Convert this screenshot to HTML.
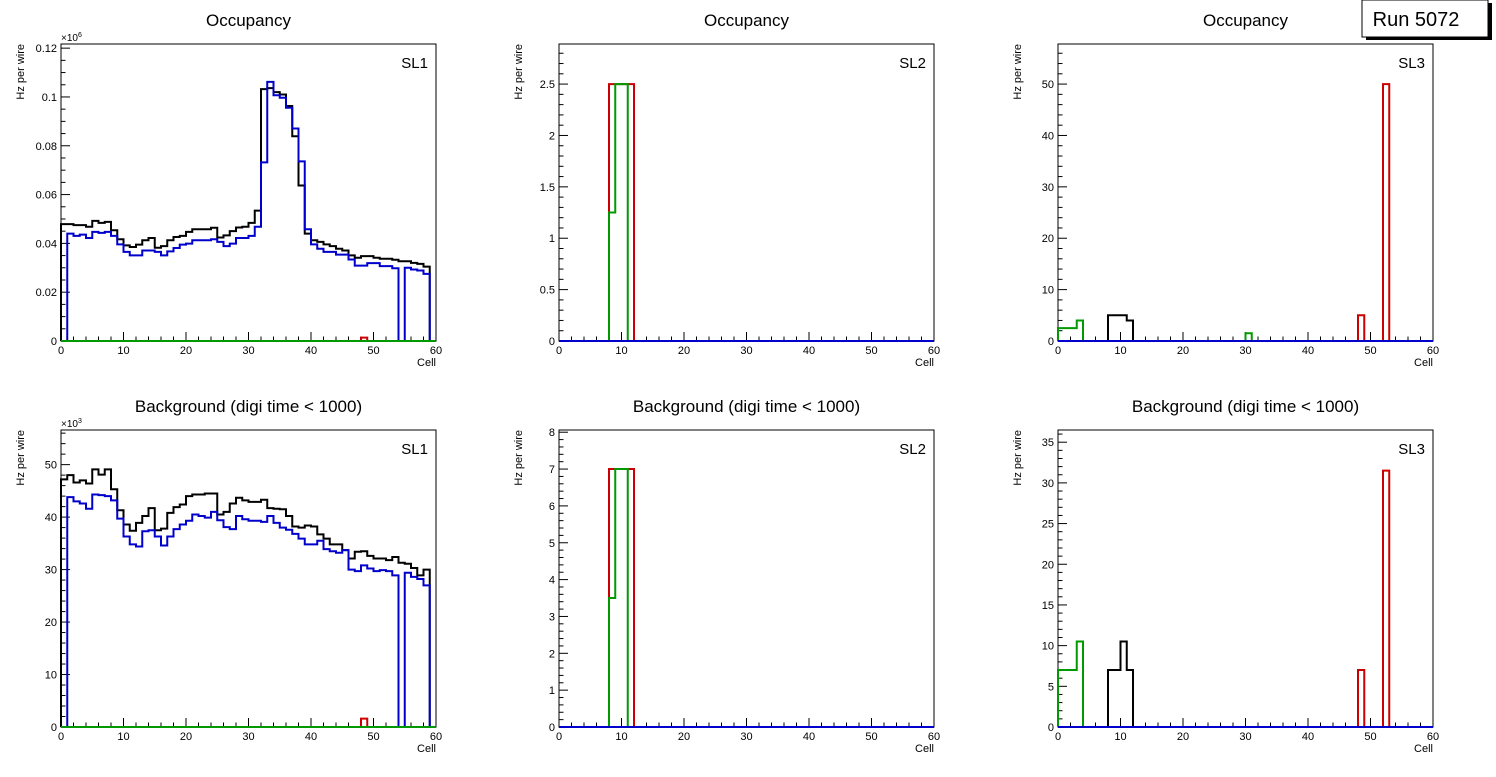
<!DOCTYPE html>
<html><head><meta charset="utf-8"><style>
body{margin:0;background:#fff}
svg text{font-family:"Liberation Sans",Arial,sans-serif}
</style></head><body>
<svg id="c" width="1496" height="772" xmlns="http://www.w3.org/2000/svg">
<rect width="1496" height="772" fill="#fff"/>
<g>
<rect x="1366" y="3" width="126" height="37" fill="#000"/>
<rect x="1362" y="0" width="126" height="37" fill="#fff" stroke="#000" stroke-width="1"/>
<text x="1416" y="26" font-size="20" text-anchor="middle">Run 5072</text>
</g>
</svg>
<script>
const Z=[0,0,0,0,0,0,0,0,0,0,0,0,0,0,0,0,0,0,0,0,0,0,0,0,0,0,0,0,0,0,0,0,0,0,0,0,0,0,0,0,0,0,0,0,0,0,0,0,0,0,0,0,0,0,0,0,0,0,0,0];
// SL1 occupancy (thousands)
const occSL1Black=[47.9,47.9,47.5,47.5,46.8,49.2,48.4,48.8,45.4,41.7,39.2,38.5,39.5,41.3,42.2,38.2,38.9,41.3,42.6,43.1,44.7,45.8,45.8,45.8,46.4,42.4,43.3,45,46.5,46.8,48.4,53.4,103.2,103.6,102,101,96.3,83.9,63.7,44,41.3,40.6,39.6,38.9,37.8,37.1,35.1,34.1,34.8,34.8,34.1,33.7,33.7,33.3,32.7,32.7,32,31.6,30.5,0];
const occSL1Blue=[0,44,43.1,43.6,42.2,44.7,44.3,44.7,43.1,39.6,36.5,35.1,35.1,37.1,37.1,36.5,35.1,36.7,38.1,39.5,39.9,41.3,41.3,41.3,41.7,40.6,38.9,39.9,42.2,42.2,43.1,46.8,73.2,106.2,100.7,99.7,95.6,87.1,73.6,45.8,39.6,37.8,36.5,36.5,35.4,35.4,33.4,30.9,30.9,31.9,31.9,30.7,30.7,29.8,0,30,29.3,28.9,27.5,0];
const occSL1Red=[0,0,0,0,0,0,0,0,0,0,0,0,0,0,0,0,0,0,0,0,0,0,0,0,0,0,0,0,0,0,0,0,0,0,0,0,0,0,0,0,0,0,0,0,0,0,0,0,1.4,0,0,0,0,0,0,0,0,0,0,0];
const occSL1Green=Z;
// SL1 background (thousands)
const bkgSL1Black=[47.2,48,46.6,47,46.4,49.1,48.1,49.1,45.3,41.3,38.6,37.4,38.9,40.2,41.7,37.5,37.8,40.8,41.9,42.4,44,44.3,44.3,44.5,44.5,40.5,41,42.6,43.7,43.2,42.9,42.9,43.3,41.7,41.6,41.5,40.2,38.2,38,38.4,38.2,36.7,35.9,34.8,34.8,33.7,32.1,33.4,33.5,32.6,32.1,32.1,31.8,32.4,31.3,31.1,30.3,28.9,30,0];
const bkgSL1Blue=[0,43.8,43,42.6,41.6,44.3,44.2,44,43.2,39.7,36.3,34.8,34.4,37.3,37.5,36.3,34.6,36.3,37.7,38.6,39.3,40.5,40.2,39.9,41,39.4,38.1,37.7,40.2,39.6,39.3,39.3,39.1,40.2,38.9,38,37.6,36.8,35.9,34.8,34.8,35.5,33.9,33.5,33.2,33.7,30,29.7,30.8,30.2,29.7,29.9,29.7,28.9,0,29.4,28.6,28.2,27,0];
const bkgSL1Red=[0,0,0,0,0,0,0,0,0,0,0,0,0,0,0,0,0,0,0,0,0,0,0,0,0,0,0,0,0,0,0,0,0,0,0,0,0,0,0,0,0,0,0,0,0,0,0,0,1.6,0,0,0,0,0,0,0,0,0,0,0];
const bkgSL1Green=Z;
// SL2
const occSL2Red=[0,0,0,0,0,0,0,0,2.5,2.5,2.5,2.5,0,0,0,0,0,0,0,0,0,0,0,0,0,0,0,0,0,0,0,0,0,0,0,0,0,0,0,0,0,0,0,0,0,0,0,0,0,0,0,0,0,0,0,0,0,0,0,0];
const occSL2Green=[0,0,0,0,0,0,0,0,1.25,2.5,2.5,0,0,0,0,0,0,0,0,0,0,0,0,0,0,0,0,0,0,0,0,0,0,0,0,0,0,0,0,0,0,0,0,0,0,0,0,0,0,0,0,0,0,0,0,0,0,0,0,0];
const bkgSL2Red=[0,0,0,0,0,0,0,0,7,7,7,7,0,0,0,0,0,0,0,0,0,0,0,0,0,0,0,0,0,0,0,0,0,0,0,0,0,0,0,0,0,0,0,0,0,0,0,0,0,0,0,0,0,0,0,0,0,0,0,0];
const bkgSL2Green=[0,0,0,0,0,0,0,0,3.5,7,7,0,0,0,0,0,0,0,0,0,0,0,0,0,0,0,0,0,0,0,0,0,0,0,0,0,0,0,0,0,0,0,0,0,0,0,0,0,0,0,0,0,0,0,0,0,0,0,0,0];
// SL3
const occSL3Black=[0,0,0,0,0,0,0,0,5,5,5,4,0,0,0,0,0,0,0,0,0,0,0,0,0,0,0,0,0,0,0,0,0,0,0,0,0,0,0,0,0,0,0,0,0,0,0,0,0,0,0,0,0,0,0,0,0,0,0,0];
const occSL3Green=[2.5,2.5,2.5,4,0,0,0,0,0,0,0,0,0,0,0,0,0,0,0,0,0,0,0,0,0,0,0,0,0,0,1.5,0,0,0,0,0,0,0,0,0,0,0,0,0,0,0,0,0,0,0,0,0,0,0,0,0,0,0,0,0];
const occSL3Red=[0,0,0,0,0,0,0,0,0,0,0,0,0,0,0,0,0,0,0,0,0,0,0,0,0,0,0,0,0,0,0,0,0,0,0,0,0,0,0,0,0,0,0,0,0,0,0,0,5,0,0,0,50,0,0,0,0,0,0,0];
const bkgSL3Black=[0,0,0,0,0,0,0,0,7,7,10.5,7,0,0,0,0,0,0,0,0,0,0,0,0,0,0,0,0,0,0,0,0,0,0,0,0,0,0,0,0,0,0,0,0,0,0,0,0,0,0,0,0,0,0,0,0,0,0,0,0];
const bkgSL3Green=[7,7,7,10.5,0,0,0,0,0,0,0,0,0,0,0,0,0,0,0,0,0,0,0,0,0,0,0,0,0,0,0,0,0,0,0,0,0,0,0,0,0,0,0,0,0,0,0,0,0,0,0,0,0,0,0,0,0,0,0,0];
const bkgSL3Red=[0,0,0,0,0,0,0,0,0,0,0,0,0,0,0,0,0,0,0,0,0,0,0,0,0,0,0,0,0,0,0,0,0,0,0,0,0,0,0,0,0,0,0,0,0,0,0,0,7,0,0,0,31.5,0,0,0,0,0,0,0];
const xTicks=[0,10,20,30,40,50,60];
const occSL1Ticks=[0,20,40,60,80,100,120];
const occSL1Labels=["0","0.02","0.04","0.06","0.08","0.1","0.12"];
const bkgSL1Ticks=[0,10,20,30,40,50];
const occSL2Ticks=[0,0.5,1,1.5,2,2.5];
const occSL2Labels=["0","0.5","1","1.5","2","2.5"];
const bkgSL2Ticks=[0,1,2,3,4,5,6,7,8];
const occSL3Ticks=[0,10,20,30,40,50];
const bkgSL3Ticks=[0,5,10,15,20,25,30,35];

const NS="http://www.w3.org/2000/svg";
const svg=document.getElementById('c');
function mk(tag,attrs,parent){const e=document.createElementNS(NS,tag);for(const k in attrs)e.setAttribute(k,attrs[k]);parent.appendChild(e);return e;}
const panels=[
 {id:'occ-sl1',x0:61,y0:44,title:'Occupancy',sl:'SL1',ymax:121.7,ticks:occSL1Ticks,labels:occSL1Labels,minor:4,exp:'6',series:[[occSL1Black,'#000'],[occSL1Blue,'#0000cc'],[occSL1Red,'#cc0000'],[occSL1Green,'#009900']]},
 {id:'occ-sl2',x0:559,y0:44,title:'Occupancy',sl:'SL2',ymax:2.89,ticks:occSL2Ticks,labels:occSL2Labels,minor:5,series:[[Z,'#000'],[occSL2Red,'#cc0000'],[occSL2Green,'#009900'],[Z,'#0000cc']]},
 {id:'occ-sl3',x0:1058,y0:44,title:'Occupancy',sl:'SL3',ymax:57.8,ticks:occSL3Ticks,minor:5,series:[[occSL3Black,'#000'],[occSL3Red,'#cc0000'],[occSL3Green,'#009900'],[Z,'#0000cc']]},
 {id:'bkg-sl1',x0:61,y0:430,title:'Background (digi time < 1000)',sl:'SL1',ymax:56.6,ticks:bkgSL1Ticks,minor:5,exp:'3',series:[[bkgSL1Black,'#000'],[bkgSL1Blue,'#0000cc'],[bkgSL1Red,'#cc0000'],[bkgSL1Green,'#009900']]},
 {id:'bkg-sl2',x0:559,y0:430,title:'Background (digi time < 1000)',sl:'SL2',ymax:8.06,ticks:bkgSL2Ticks,minor:5,series:[[Z,'#000'],[bkgSL2Red,'#cc0000'],[bkgSL2Green,'#009900'],[Z,'#0000cc']]},
 {id:'bkg-sl3',x0:1058,y0:430,title:'Background (digi time < 1000)',sl:'SL3',ymax:36.5,ticks:bkgSL3Ticks,minor:5,series:[[bkgSL3Black,'#000'],[bkgSL3Red,'#cc0000'],[bkgSL3Green,'#009900'],[Z,'#0000cc']]}
];
const W=375,H=297;
panels.forEach(p=>{
 const g=mk('g',{},svg);
 
 
 const x1=p.x0+W,y1=p.y0+H;
 const xs=v=>p.x0+v/60*W, ys=v=>y1-v/p.ymax*H;
 const t=mk('text',{x:p.x0+W/2,y:p.y0-18,'font-size':17,'text-anchor':'middle'},g);t.textContent=p.title;
 
 
 const f=mk('rect',{x:p.x0,y:p.y0,width:W,height:H,fill:'none',stroke:'#000','stroke-width':1},g);
 
 
 // x ticks
 for(let v=0;v<=60;v+=2){const big=v%10===0;mk('line',{x1:xs(v),x2:xs(v),y1:y1,y2:y1-(big?9:4.5),stroke:'#000'},g);}
 xTicks.forEach(v=>{const l=mk('text',{x:xs(v),y:y1+13,'font-size':11,'text-anchor':'middle'},g);l.textContent=v;
  
  });
 const cl=mk('text',{x:x1,y:y1+25,'font-size':11,'text-anchor':'end'},g);cl.textContent='Cell';
 
 
 // y ticks
 const step=p.ticks[1]-p.ticks[0],ms=step/p.minor;
 for(let v=0;v<=p.ymax+1e-9;v+=ms){const big=Math.abs(v/step-Math.round(v/step))<1e-6;mk('line',{x1:p.x0,x2:p.x0+(big?9:4.5),y1:ys(v),y2:ys(v),stroke:'#000'},g);}
 p.ticks.forEach((v,i)=>{const l=mk('text',{x:p.x0-4,y:ys(v)+4,'font-size':11,'text-anchor':'end'},g);l.textContent=p.labels?p.labels[i]:v;
  
  });
 const yt=mk('text',{transform:`translate(${p.x0-37},${p.y0}) rotate(-90)`,'font-size':11,'text-anchor':'end'},g);yt.textContent='Hz per wire';
 
 
 if(p.exp){const e=mk('text',{x:p.x0,y:p.y0-3,'font-size':10},g);e.innerHTML='×10<tspan dy="-4" font-size="7">'+p.exp+'</tspan>';
  
  }
 const s=mk('text',{x:x1-8,y:p.y0+24,'font-size':15,'text-anchor':'end'},g);s.textContent=p.sl;
 
 
 p.series.forEach(([arr,col],k)=>{
  let d=`M${xs(0)},${ys(0)}`;
  arr.forEach((v,i)=>{d+=`L${xs(i)},${ys(v)}L${xs(i+1)},${ys(v)}`;});
  d+=`L${xs(60)},${ys(0)}`;
  const path=mk('path',{d:d,fill:'none',stroke:col,'stroke-width':2},g);
  
  
 });
});
</script>
</body></html>
